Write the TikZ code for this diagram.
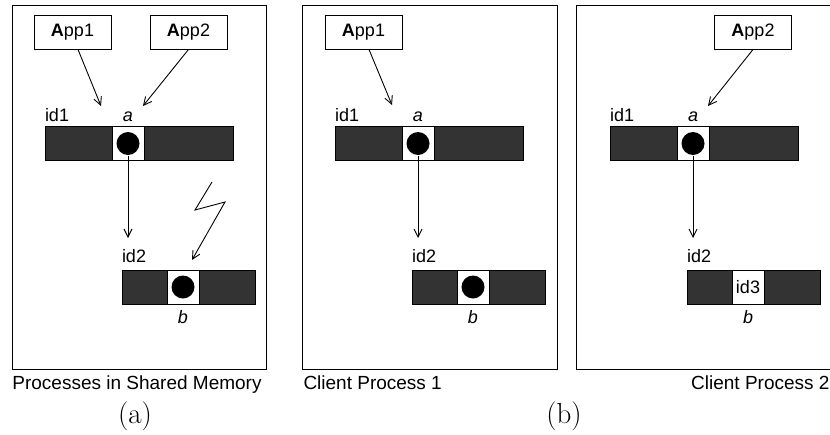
\documentclass[tikz,border=0pt]{standalone}
\usepackage{fontspec}
\newfontfamily\labelfont{Liberation Sans}
\usetikzlibrary{arrows.meta}
\definecolor{bardark}{gray}{0.2}
\tikzset{
	lbl/.style={font=\labelfont\fontsize{18}{20}\selectfont, inner sep=0pt},
	caption/.style={font=\labelfont\fontsize{19}{21}\selectfont, inner sep=0pt},
	sublbl/.style={font=\fontsize{29}{34}\selectfont, inner sep=0pt},
	appbox/.style={draw, minimum width=77pt, minimum height=34pt, inner sep=0pt, font=\labelfont\fontsize{18}{20}\selectfont},
	barbox/.style={draw, fill=bardark, minimum height=34pt, inner sep=0pt},
	cellbox/.style={draw, fill=white, minimum width=32pt, minimum height=34pt, inner sep=0pt},
	dotmark/.style={circle, fill=black, minimum size=23pt, inner sep=0pt},
	ptr/.style={-{Straight Barb[length=8pt,width=8pt]}, line width=0.9pt}
}
\begin{document}
\begin{tikzpicture}[x=1pt,y=-1pt,line width=1pt]
\useasboundingbox (0,0) rectangle (830,434);

%Rahmen
\draw (12,5) rectangle (266,369);
\draw (302,5) rectangle (557,369);
\draw (576,5) rectangle (836,369);

%Speicherbloecke
\foreach \dx/\pn in {0/a,290/b,565/c}
{
	\node[barbox, minimum width=188pt] (top\pn) at (139+\dx,143.5) {};
	\node[cellbox] (topcell\pn) at (128+\dx,143.5) {};
	\node[dotmark] (topdot\pn) at (topcell\pn) {};
	\node[barbox, minimum width=133pt] (bot\pn) at (188.5+\dx,287) {};
	\node[cellbox] (botcell\pn) at (183+\dx,287) {};
	\node[lbl, anchor=base west] (idone\pn) at ([yshift=5pt]top\pn.north west) {id1};
	\node[lbl, anchor=base] (a\pn) at ([yshift=5pt]topcell\pn.north) {\itshape a};
	\node[lbl, anchor=base west] (idtwo\pn) at ([yshift=7pt]bot\pn.north west) {id2};
	\node[lbl, anchor=base] (b\pn) at ([yshift=-19pt]botcell\pn.south) {\itshape b};
	\coordinate (down\pn) at (128+\dx,238);
	\draw[ptr] (topdot\pn.south) -- (down\pn);
}
\node[dotmark] (botdota) at (botcella) {};
\node[dotmark] (botdotb) at (botcellb) {};
\node[lbl] (idthree) at (botcellc) {id3};

%Anwendungen
\node[appbox] (appa1) at (72.5,32) {\textbf{A}pp1};
\node[appbox] (appa2) at (188.5,32) {\textbf{A}pp2};
\node[appbox] (appb1) at (363.5,32) {\textbf{A}pp1};
\node[appbox] (appc2) at (753,32) {\textbf{A}pp2};
\coordinate (ina1) at (101,106);
\coordinate (ina2) at (143,106);
\coordinate (inb1) at (392,105);
\coordinate (inc2) at (708,106);
\draw[ptr] ([xshift=5.5pt]appa1.south) -- (ina1);
\draw[ptr] (appa2.south) -- (ina2);
\draw[ptr] ([xshift=5.5pt]appb1.south) -- (inb1);
\draw[ptr] (appc2.south) -- (inc2);

%Blitz
\draw[ptr] (212,182) -- (195,210) -- (225,202) -- (192,260);

%Beschriftung
\node[caption, anchor=base] (capa) at (137,389) {Processes in Shared Memory};
\node[caption, anchor=base west] (capb) at (303,389) {Client Process 1};
\node[caption, anchor=base east] (capc) at (830,389) {Client Process 2};
\node[sublbl, anchor=base] (suba) at (135,423) {(a)};
\node[sublbl, anchor=base] (subb) at (564,423) {(b)};
\end{tikzpicture}
\end{document}
